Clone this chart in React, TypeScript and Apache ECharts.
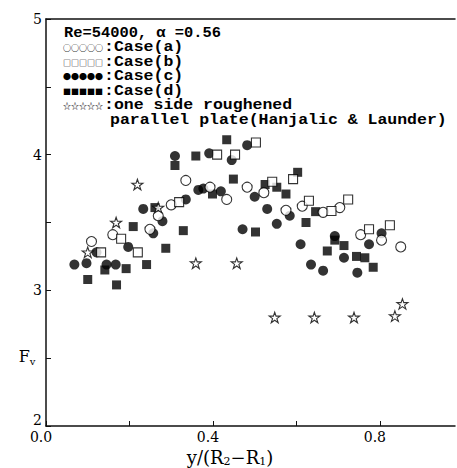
import React, { useEffect, useRef } from 'react';
import * as echarts from 'echarts';

// Case(a): open circles
const caseA: [number, number][] = [
  [0.109, 3.36], [0.16, 3.41], [0.249, 3.45], [0.269, 3.55], [0.30, 3.63], [0.335, 3.81],
  [0.393, 3.76], [0.433, 3.67], [0.482, 3.76], [0.522, 3.72], [0.575, 3.59], [0.614, 3.62],
  [0.664, 3.575], [0.704, 3.61], [0.754, 3.41], [0.804, 3.37], [0.85, 3.32],
];
// Case(b): open squares
const caseB: [number, number][] = [
  [0.132, 3.28], [0.18, 3.38], [0.22, 3.28], [0.319, 3.65], [0.41, 4.0], [0.453, 4.0],
  [0.503, 4.09], [0.542, 3.80], [0.592, 3.82], [0.63, 3.66], [0.684, 3.585], [0.724, 3.67],
  [0.774, 3.45], [0.824, 3.48],
];
// Case(c): filled circles
const caseC: [number, number][] = [
  [0.068, 3.19], [0.097, 3.20], [0.121, 3.28], [0.145, 3.19], [0.167, 3.19], [0.197, 3.32],
  [0.233, 3.60], [0.257, 3.42], [0.279, 3.51], [0.309, 3.99], [0.335, 3.67], [0.365, 3.74],
  [0.377, 3.75], [0.391, 4.01], [0.419, 3.73], [0.445, 3.96], [0.471, 3.45], [0.482, 4.07],
  [0.50, 3.69], [0.53, 3.60], [0.553, 3.49], [0.584, 3.55], [0.61, 3.34], [0.635, 3.19],
  [0.664, 3.145], [0.692, 3.40], [0.714, 3.24], [0.746, 3.13], [0.774, 3.34], [0.804, 3.42],
];
// Case(d): filled squares
const caseD: [number, number][] = [
  [0.10, 3.08], [0.141, 3.15], [0.169, 3.04], [0.192, 3.16], [0.209, 3.47], [0.241, 3.19],
  [0.261, 3.61], [0.287, 3.31], [0.309, 3.92], [0.329, 3.44], [0.359, 3.99], [0.399, 3.71],
  [0.433, 4.11], [0.449, 3.82], [0.502, 3.43], [0.525, 3.78], [0.553, 3.76], [0.575, 3.71],
  [0.603, 3.87], [0.623, 3.50], [0.646, 3.58], [0.674, 3.29], [0.692, 3.37], [0.714, 3.33],
  [0.744, 3.25], [0.764, 3.24], [0.784, 3.17],
];
// One side roughened parallel plate (Hanjalic & Launder): open stars
const hanjalic: [number, number][] = [
  [0.10, 3.28], [0.168, 3.50], [0.219, 3.78], [0.269, 3.61], [0.359, 3.20], [0.457, 3.20],
  [0.548, 2.80], [0.643, 2.80], [0.738, 2.80], [0.836, 2.81], [0.854, 2.90],
];

const xTickLabels = ['0.0', '0.4', '0.8'];
const yTickLabels = ['2', '3', '4', '5'];

const headerText = 'Re=54000, α =0.56';
const legendRows = [
  { sym: '○○○○○', label: ':Case(a)' },
  { sym: '□□□□□', label: ':Case(b)' },
  { sym: '●●●●●', label: ':Case(c)' },
  { sym: '■■■■■', label: ':Case(d)' },
  { sym: '☆☆☆☆☆', label: ':one side roughened' },
];
const legendCont = 'parallel plate(Hanjalic & Launder)';

const STAR = 'path://M50,4 L61,37 L96,37 L68,58 L79,92 L50,71 L21,92 L32,58 L4,37 L39,37 Z';

const SERIF = '"DejaVu Serif", serif';
const MONO = '"Liberation Mono", monospace';
const SYM = '"Noto Sans CJK JP", "DejaVu Sans", sans-serif';

export default function App() {
  const ref = useRef<HTMLDivElement>(null);
  useEffect(() => {
    const chart = echarts.init(ref.current!, null, { renderer: 'svg' });
    const axisLine = { show: true, lineStyle: { color: '#111', width: 1.5 } };
    const rowY = (i: number) => 47.5 + i * 14.5;
    const legendFont = { fontFamily: MONO, fontWeight: 'bold', fontSize: 14, fill: '#000', verticalAlign: 'middle' };
    const option: any = {
      animation: false,
      backgroundColor: '#fff',
      grid: { left: 46, top: 19, right: 2, bottom: 42 },
      xAxis: [
        {
          type: 'value', min: 0, max: 0.98, interval: 0.2,
          axisLine,
          axisTick: { show: true, inside: true, length: 5, lineStyle: { color: '#111', width: 1 } },
          splitLine: { show: false },
          axisLabel: {
            showMaxLabel: false,
            margin: 4,
            color: '#000',
            fontFamily: SERIF,
            fontSize: 14,
            padding: [0, 10, 0, 0],
            formatter: (v: number) => {
              const s = v.toFixed(1);
              return xTickLabels.includes(s) ? s : '';
            },
          },
        },
        {
          type: 'value', position: 'top', min: 0, max: 0.98,
          axisLine, axisTick: { show: false }, axisLabel: { show: false }, splitLine: { show: false },
        },
      ],
      yAxis: {
        type: 'value', min: 2, max: 5, interval: 0.5,
        axisLine,
        axisTick: { show: true, inside: true, length: 5, lineStyle: { color: '#111', width: 1 } },
        splitLine: { show: false },
        axisLabel: {
          margin: 4,
          color: '#000',
          fontFamily: SERIF,
          fontSize: 14,
          rich: {
            up: { fontFamily: SERIF, fontSize: 14, color: '#000', padding: [0, 0, 12, 0] },
          },
          formatter: (v: number) => {
            const s = String(v);
            if (!yTickLabels.includes(s)) return '';
            return v === 2 ? '{up|' + s + '}' : s;
          },
        },
      },
      series: [
        {
          name: 'Case(c)', type: 'scatter', data: caseC, symbol: 'circle', symbolSize: 10,
          itemStyle: { color: '#000' },
        },
        {
          name: 'Case(d)', type: 'scatter', data: caseD, symbol: 'rect', symbolSize: 9,
          itemStyle: { color: '#000' },
        },
        {
          name: 'Case(a)', type: 'scatter', data: caseA, symbol: 'circle', symbolSize: 10,
          itemStyle: { color: '#fff', borderColor: '#000', borderWidth: 1.1 },
        },
        {
          name: 'Case(b)', type: 'scatter', data: caseB, symbol: 'rect', symbolSize: 9,
          itemStyle: { color: '#fff', borderColor: '#000', borderWidth: 1.1 },
        },
        {
          name: 'Hanjalic & Launder', type: 'scatter', data: hanjalic, symbol: STAR, symbolSize: 11,
          symbolKeepAspect: true,
          itemStyle: { color: '#fff', borderColor: '#000', borderWidth: 1.1 },
        },
      ],
      graphic: [
        {
          type: 'text', x: 64, y: 33, scaleX: 1.1,
          style: { text: headerText, ...legendFont },
        },
        ...legendRows.flatMap((r, i) => [
          {
            type: 'text', x: 63, y: rowY(i),
            style: { text: r.sym, fontFamily: SYM, fontWeight: 'bold', fontSize: 8, fill: '#000', verticalAlign: 'middle' },
          },
          {
            type: 'text', x: 104, y: rowY(i), scaleX: 1.18,
            style: { text: r.label, ...legendFont },
          },
        ]),
        {
          type: 'text', x: 110, y: rowY(5), scaleX: 1.18,
          style: { text: legendCont, ...legendFont },
        },
        {
          type: 'text', x: 230, y: 457,
          style: {
            text: '{a|y/(R}{s|2}{a|−R}{s|1}{a|)}',
            align: 'center', verticalAlign: 'middle', fill: '#000',
            rich: {
              a: { fontFamily: SERIF, fontSize: 18, lineHeight: 20, verticalAlign: 'middle' },
              s: { fontFamily: SERIF, fontSize: 11, lineHeight: 11, verticalAlign: 'bottom' },
            },
          },
        },
        {
          type: 'text', x: 27, y: 356,
          style: {
            text: '{a|F}{s|v}',
            align: 'center', verticalAlign: 'middle', fill: '#000',
            rich: {
              a: { fontFamily: SERIF, fontSize: 16, lineHeight: 20, verticalAlign: 'middle' },
              s: { fontFamily: SERIF, fontSize: 10, lineHeight: 10, verticalAlign: 'bottom' },
            },
          },
        },
      ],
    };
    chart.setOption(option);
    return () => chart.dispose();
  }, []);
  return (
    <div
      ref={ref}
      style={{ position: 'absolute', left: 0, top: 0, width: 457, height: 468, background: '#fff' }}
    />
  );
}
